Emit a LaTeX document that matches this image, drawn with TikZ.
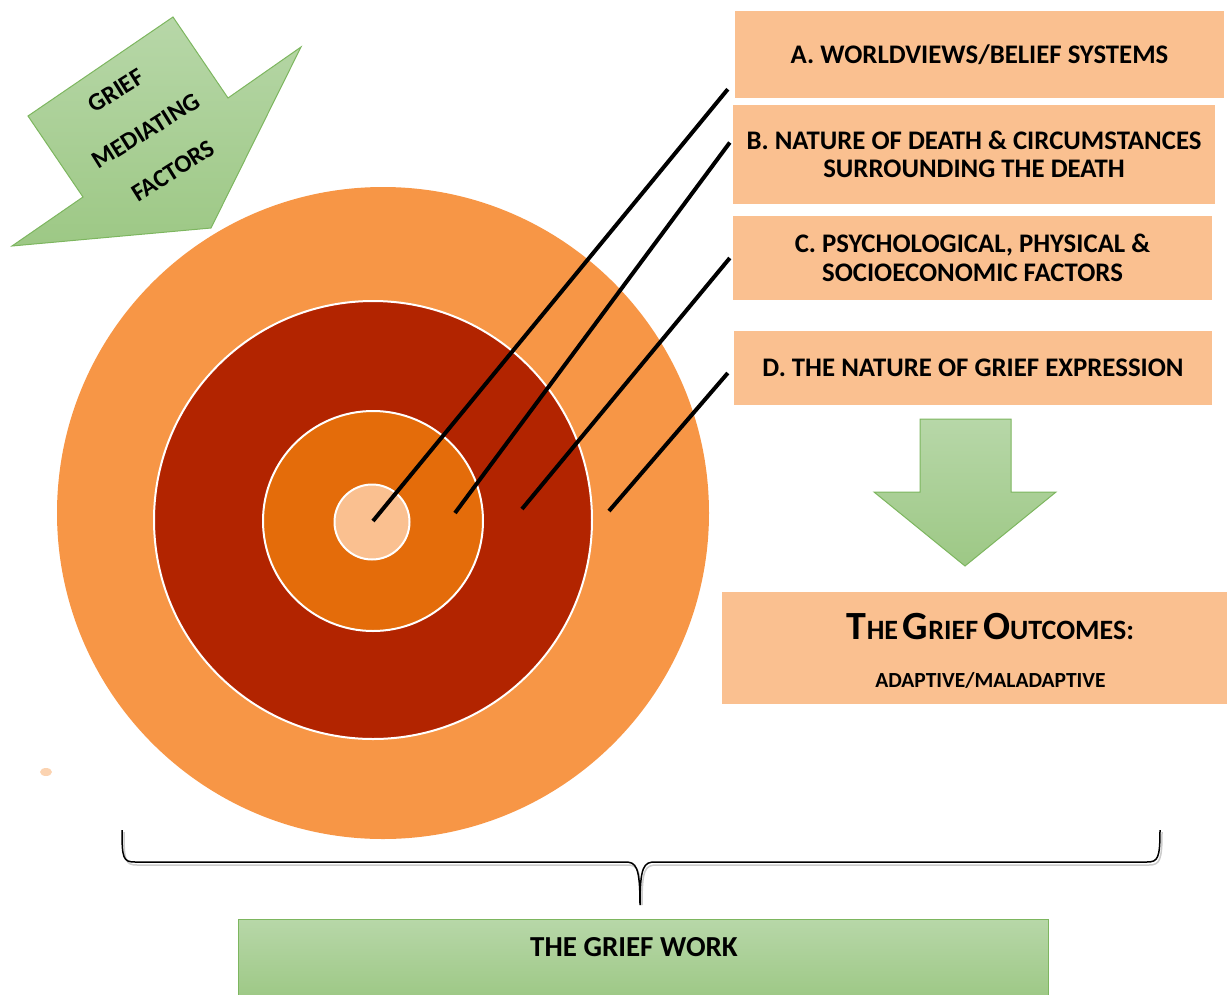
\documentclass[tikz,border=0pt]{standalone}
\usepackage{fontspec}
\setmainfont{Carlito}
\usepackage{tikz}

\definecolor{outerring}{HTML}{F79646}
\definecolor{redring}{HTML}{B22400}
\definecolor{midring}{HTML}{E46C0A}
\definecolor{peach}{HTML}{FAC090}
\definecolor{greentop}{HTML}{B7D7A8}
\definecolor{greenbot}{HTML}{9DC885}
\definecolor{greenedge}{HTML}{7DB65F}

\tikzset{
	factor/.style = {fill = peach, inner sep = 0, align = center, font = \fontsize{26.8}{28.5}\selectfont\bfseries},
	ring/.style = {draw = white, line width = 2},
	pointer/.style = {line width = 4},
	greenbox/.style = {draw = greenedge, line width = 1, top color = greentop, bottom color = greenbot},
	tilted/.style = {rotate = 32, inner sep = 0, font = \fontsize{25}{25}\selectfont\bfseries}
}

\newcommand{\capbig}[1]{{\fontsize{40}{40}\selectfont #1}}
\newcommand{\capsmall}[1]{{\fontsize{28}{28}\selectfont #1}}

\begin{document}
\begin{tikzpicture}[x = 1pt, y = -1pt]
\useasboundingbox (0,0) rectangle (1227,994);
	\fill [fill = outerring] (383,513) circle [radius = 326];
	\draw [ring, fill = redring] (373,520) circle [radius = 219];
	\draw [ring, fill = midring] (373,521) circle [radius = 110];
	\draw [ring, fill = peach] (372,522) circle [radius = 37.5];
	\fill [fill = peach!70!white] (46,772) ellipse [x radius = 6, y radius = 4];
	\draw [greenbox] (28,116) -- (173,17) -- (228,98) -- (301,47) -- (211,228) -- (12,246) -- (83,197) -- cycle;
	\node [tilted] (grief) at (116,91) {GRIEF};
	\node [tilted] (mediating) at (146,131) {MEDIATING};
	\node [tilted] (factors) at (173,171) {FACTORS};
	\node [factor, minimum width = 489, minimum height = 87] (boxA) at (979.5,54.5) {A. WORLDVIEWS/BELIEF SYSTEMS};
	\node [factor, minimum width = 482, minimum height = 99] (boxB) at (974,154.5) {B. NATURE OF DEATH \& CIRCUMSTANCES\\SURROUNDING THE DEATH};
	\node [factor, minimum width = 479, minimum height = 84] (boxC) at (972.5,258) {C. PSYCHOLOGICAL, PHYSICAL \&\\SOCIOECONOMIC FACTORS};
	\node [factor, minimum width = 478, minimum height = 74] (boxD) at (973,368) {D. THE NATURE OF GRIEF EXPRESSION};
	\coordinate (hitA) at (373,521);
	\coordinate (hitB) at (455,513);
	\coordinate (hitC) at (522,509);
	\coordinate (hitD) at (609,511);
	\coordinate (tagA) at ([xshift = -7, yshift = 9]boxA.south west);
	\coordinate (tagB) at ([xshift = -3, yshift = 12]boxB.west);
	\coordinate (tagC) at ([xshift = -3]boxC.west);
	\coordinate (tagD) at ([xshift = -6, yshift = -5]boxD.west);
	\draw [pointer] (hitA) -- (tagA);
	\draw [pointer] (hitB) -- (tagB);
	\draw [pointer] (hitC) -- (tagC);
	\draw [pointer] (hitD) -- (tagD);
	\draw [greenbox] (920,419) -- (1011,419) -- (1011,492) -- (1056,492) -- (965,566) -- (874,492) -- (920,492) -- cycle;
	\node [fill = peach, minimum width = 505, minimum height = 112, inner sep = 0] (outbox) at (974.5,648) {};
	\node [align = center, inner sep = 0, font = \fontsize{21.5}{48}\selectfont\bfseries] (outcomes) at ([xshift = 16, yshift = -3]outbox.center) {\capbig{T}\capsmall{HE} \capbig{G}\capsmall{RIEF} \capbig{O}\capsmall{UTCOMES:}\\ADAPTIVE/MALADAPTIVE};
	\draw [gray!40, line width = 1.5] (124,832) .. controls (124,860) and (125,865) .. (137,865) -- (627,865) .. controls (638,865) and (641,869) .. (641,905);
	\draw [gray!40, line width = 1.5] (642,905) .. controls (642,869) and (645,865) .. (657,865) -- (1149,865) .. controls (1160,865) and (1162,860) .. (1162,832);
	\draw [line width = 1.5] (122,830) .. controls (122,858) and (123,862) .. (135,862) -- (625,862) .. controls (636,862) and (640,866) .. (640,905) .. controls (640,866) and (644,862) .. (655,862) -- (1147,862) .. controls (1158,862) and (1160,858) .. (1160,830);
	\node [greenbox, anchor = north, minimum width = 810, minimum height = 80] (work) at (643,919) {};
	\node [font = \fontsize{29}{29}\selectfont\bfseries] (worktext) at ([xshift = -9, yshift = -28]work.north) {THE GRIEF WORK};
\end{tikzpicture}
\end{document}
